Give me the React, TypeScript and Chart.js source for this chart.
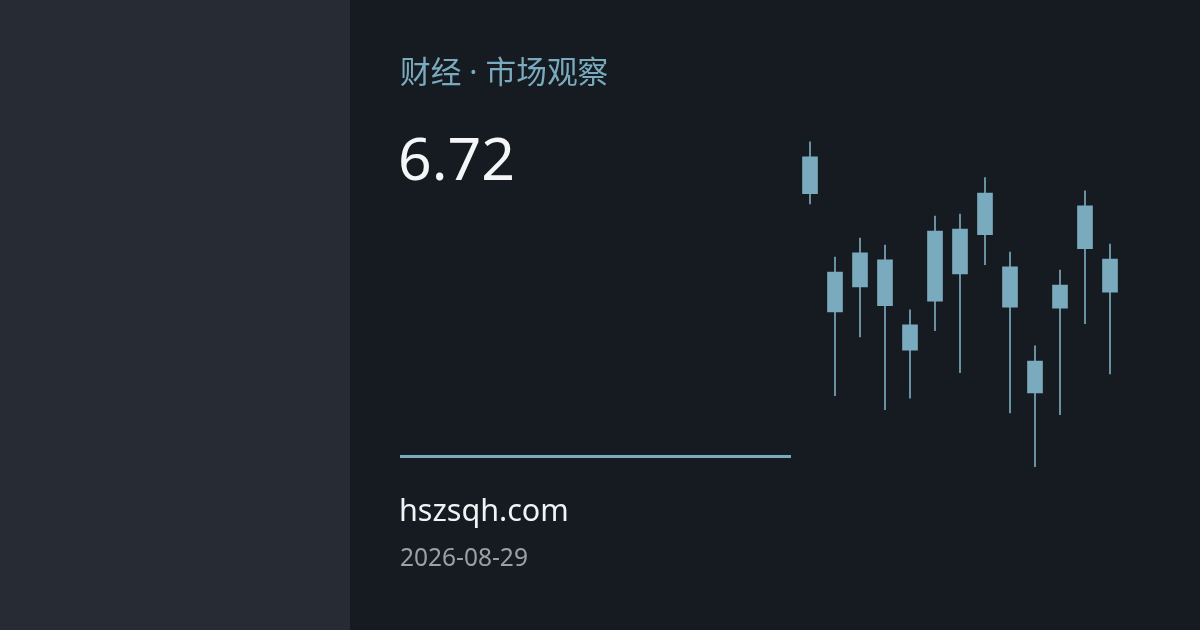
import React, { useEffect, useRef } from "react";
import { Chart, registerables } from "chart.js";

Chart.register(...registerables);

const categories = ["1", "2", "3", "4", "5", "6", "7", "8", "9", "10", "11", "12", "13"];
const highs = [96.6, 63.7, 69.1, 67.1, 48.6, 75.4, 76.0, 86.4, 65.1, 38.3, 60.0, 82.6, 67.4];
const bodyTops = [92.3, 59.4, 64.9, 62.9, 44.3, 71.1, 71.7, 82.0, 60.9, 34.0, 55.7, 78.3, 63.1];
const bodyBottoms = [81.8, 48.0, 55.2, 49.8, 37.1, 51.1, 58.9, 70.1, 49.4, 24.9, 49.1, 66.1, 53.7];
const lows = [78.9, 24.1, 40.9, 20.1, 23.4, 42.7, 30.7, 61.5, 19.2, 3.8, 18.7, 44.7, 30.3];

const title = "财经 · 市场观察";
const price = "6.72";
const site = "hszsqh.com";
const date = "2026-08-29";

const ACCENT = "#7aaabd";

export default function App() {
  const ref = useRef<HTMLCanvasElement>(null);

  useEffect(() => {
    document.body.style.margin = "0";
    const ctx = ref.current!;
    const chart = new Chart(ctx, {
      type: "bar",
      data: {
        labels: categories,
        datasets: [
          {
            data: categories.map((_, i) => [bodyBottoms[i], bodyTops[i]]) as any,
            backgroundColor: ACCENT,
            borderWidth: 0,
            barThickness: 15,
            grouped: false,
          } as any,
          {
            data: categories.map((_, i) => [lows[i], highs[i]]) as any,
            backgroundColor: ACCENT,
            borderWidth: 0,
            barThickness: 1,
            grouped: false,
          } as any,
        ],
      },
      options: {
        animation: false,
        responsive: false,
        devicePixelRatio: 1,
        layout: { padding: { left: 797.5, right: 77.5, top: 130, bottom: 150 } },
        plugins: { legend: { display: false }, tooltip: { enabled: false } },
        scales: {
          x: { display: false, offset: true },
          y: { display: false, min: 0, max: 100 },
        },
      },
    });
    return () => chart.destroy();
  }, []);

  return (
    <div
      style={{
        position: "fixed",
        left: 0,
        top: 0,
        width: 1200,
        height: 630,
        background: "#161a21",
        overflow: "hidden",
        fontFamily: "'Noto Sans', 'Noto Sans CJK SC', sans-serif",
      }}
    >
      <div style={{ position: "absolute", left: 0, top: 0, width: 350, height: 630, background: "#272b33" }} />
      <canvas ref={ref} width={1200} height={630} style={{ position: "absolute", left: 0, top: 0, width: 1200, height: 630 }} />
      <div
        style={{
          position: "absolute",
          left: 400,
          top: 51,
          fontSize: 30.7,
          lineHeight: "41px",
          color: ACCENT,
          fontFamily: "'Noto Sans', 'Noto Sans CJK SC', sans-serif",
          whiteSpace: "nowrap",
        }}
      >
        {title}
      </div>
      <div
        style={{
          position: "absolute",
          left: 398,
          top: 117,
          fontSize: 59,
          lineHeight: "80px",
          color: "#f4f6f8",
          whiteSpace: "nowrap",
        }}
      >
        {price}
      </div>
      <div style={{ position: "absolute", left: 400, top: 455, width: 391, height: 3, background: ACCENT }} />
      <div
        style={{
          position: "absolute",
          left: 399,
          top: 488,
          fontSize: 30.5,
          lineHeight: "42px",
          color: "#f1f3f5",
          whiteSpace: "nowrap",
        }}
      >
        {site}
      </div>
      <div
        style={{
          position: "absolute",
          left: 400,
          top: 540.5,
          fontSize: 24.5,
          lineHeight: "32px",
          color: "#9aa0a8",
          whiteSpace: "nowrap",
        }}
      >
        {date}
      </div>
    </div>
  );
}
